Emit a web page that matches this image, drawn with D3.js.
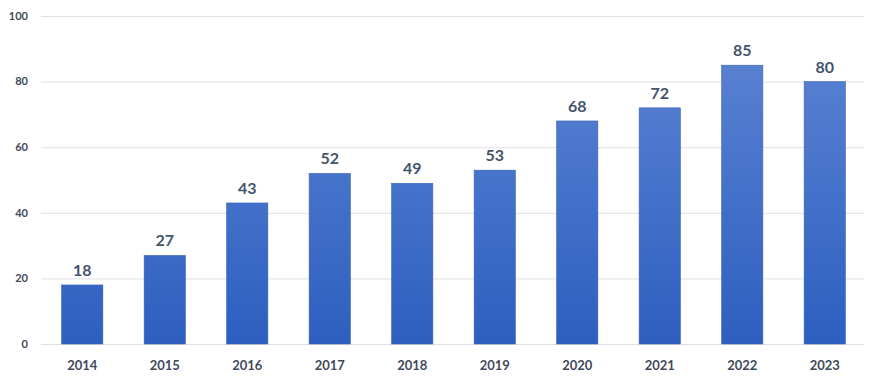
<!DOCTYPE html>
<html>
<head>
<meta charset="utf-8">
<script src="https://cdn.jsdelivr.net/npm/d3@7"></script>
<style>
  body { margin: 0; background: #fff; }
  svg { display: block; font-family: Lato, "Open Sans", sans-serif; }
</style>
</head>
<body>
<div id="chart"></div>
<script>
const years = ['2014','2015','2016','2017','2018','2019','2020','2021','2022','2023'];
const values = [18, 27, 43, 52, 49, 53, 68, 72, 85, 80];
const yTicks = [0, 20, 40, 60, 80, 100];

const width = 880;
const height = 384;
const margin = { top: 16, right: 14, bottom: 40, left: 41 };

const svg = d3.select('#chart')
    .append('svg')
    .attr('width', width)
    .attr('height', height);

const grad = svg.append('defs')
    .append('linearGradient')
    .attr('id', 'barGrad')
    .attr('gradientUnits', 'userSpaceOnUse')
    .attr('x1', 0).attr('x2', 0)
    .attr('y1', margin.top).attr('y2', height - margin.bottom);
grad.append('stop').attr('offset', '0%').attr('stop-color', '#5f86d4');
grad.append('stop').attr('offset', '100%').attr('stop-color', '#2d5fc0');

const x = d3.scaleBand()
    .domain(years)
    .range([margin.left, width - margin.right])
    .paddingInner(0.5)
    .paddingOuter(0.25);

const y = d3.scaleLinear()
    .domain([0, 100])
    .range([height - margin.bottom, margin.top]);

// gridlines
svg.append('g')
    .selectAll('line')
    .data(yTicks)
    .join('line')
        .attr('x1', margin.left)
        .attr('x2', width - margin.right - 2)
        .attr('y1', d => y(d) + 0.5)
        .attr('y2', d => y(d) + 0.5)
        .attr('stroke', '#e0e0e0')
        .attr('stroke-width', 1);

// y tick labels
svg.append('g')
    .selectAll('text')
    .data(yTicks)
    .join('text')
        .attr('x', 28)
        .attr('y', d => y(d))
        .attr('dy', '0.35em')
        .attr('text-anchor', 'end')
        .attr('font-size', 11)
        .attr('font-weight', 'bold')
        .attr('fill', '#404a5a')
        .text(d => d);

// bars
svg.append('g')
    .attr('fill', 'url(#barGrad)')
    .attr('stroke', '#3a62b8')
    .attr('stroke-width', 0.6)
    .selectAll('rect')
    .data(values)
    .join('rect')
        .attr('x', (d, i) => x(years[i]))
        .attr('y', d => y(d))
        .attr('width', x.bandwidth())
        .attr('height', d => y(0) - y(d));

// value labels
svg.append('g')
    .selectAll('text')
    .data(values)
    .join('text')
        .attr('x', (d, i) => x(years[i]) + x.bandwidth() / 2)
        .attr('y', d => y(d) - 9)
        .attr('text-anchor', 'middle')
        .attr('font-size', 16)
        .attr('font-weight', 'bold')
        .attr('fill', '#44546a')
        .text(d => d);

// x labels
svg.append('g')
    .selectAll('text')
    .data(years)
    .join('text')
        .attr('x', d => x(d) + x.bandwidth() / 2)
        .attr('y', 370)
        .attr('text-anchor', 'middle')
        .attr('font-size', 13)
        .attr('font-weight', 'bold')
        .attr('fill', '#404a5a')
        .text(d => d);
</script>
</body>
</html>
